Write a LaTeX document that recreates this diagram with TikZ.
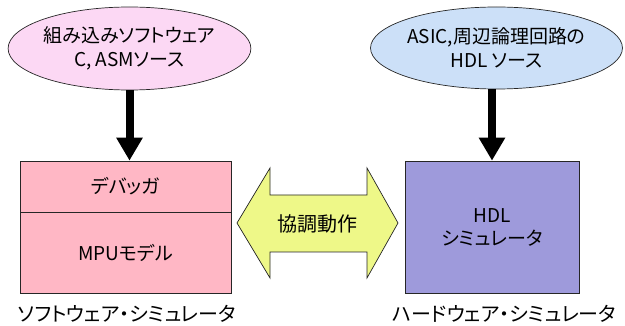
\documentclass[tikz,border=0pt]{standalone}
\usepackage{fontspec}
\setmainfont{Noto Sans CJK JP}[RawFeature={+palt}]
\usetikzlibrary{shapes.geometric,arrows.meta}
\definecolor{elpink}{HTML}{FCD8F4}
\definecolor{elblue}{HTML}{CCE0F8}
\definecolor{boxpink}{HTML}{FFB7C5}
\definecolor{boxpurple}{HTML}{9E9ADB}
\definecolor{arrowyellow}{HTML}{EEF888}
\tikzset{
  srcell/.style={ellipse,draw=black!85,line width=0.7pt,inner sep=0pt,align=center,font=\fontsize{19}{24}\selectfont},
  cellbox/.style={draw=black!85,line width=0.7pt,inner sep=0pt,align=center,font=\fontsize{19}{23}\selectfont},
  flowarrow/.style={line width=8pt,-{Triangle[length=23pt,width=25pt]}},
  caption/.style={font=\fontsize{20}{24}\selectfont,inner sep=0pt}
}
\begin{document}
\begin{tikzpicture}[x=1pt,y=-1pt]
\useasboundingbox (0,0) rectangle (625,326);
% source ellipses
\node[srcell,fill=elpink,minimum width=205pt,minimum height=83pt] (lel) at (129.5,48.5) {組み込みソフトウェア\\C, ASMソース};
\node[srcell,fill=elblue,minimum width=193pt,minimum height=82pt] (rel) at (496.5,48) {ASIC,周辺論理回路の\\HDL ソース};
% left simulator box
\node[cellbox,fill=boxpink,minimum width=211pt,minimum height=51pt] (dbg) at (125.5,186.5) {デバッガ};
\node[cellbox,fill=boxpink,minimum width=211pt,minimum height=81pt,anchor=north] (mpu) at (dbg.south) {MPUモデル};
% right simulator box
\node[cellbox,fill=boxpurple,minimum width=174pt,minimum height=132pt] (hdl) at (492,227) {HDL\\シミュレータ};
% arrows from sources
\draw[flowarrow] (lel.south) -- (lel.south |- dbg.north);
\draw[flowarrow] (hdl.north |- rel.south) -- (hdl.north);
% double arrow
\coordinate (lt) at (237,223);
\coordinate (rt) at (398,223);
\draw[fill=arrowyellow,draw=black!85,line width=0.7pt]
  (lt) -- (270,168) -- (270,195) -- (367,195) -- (367,168) -- (rt)
  -- (367,278) -- (367,252) -- (270,252) -- (270,278) -- cycle;
\node[font=\fontsize{20}{24}\selectfont,inner sep=0pt] (coop) at (317.5,224) {協調動作};
% captions
\node[caption] (lcap) at (127,314) {ソフトウェア・シミュレータ};
\node[caption] (rcap) at (504,314) {ハードウェア・シミュレータ};
\end{tikzpicture}
\end{document}
